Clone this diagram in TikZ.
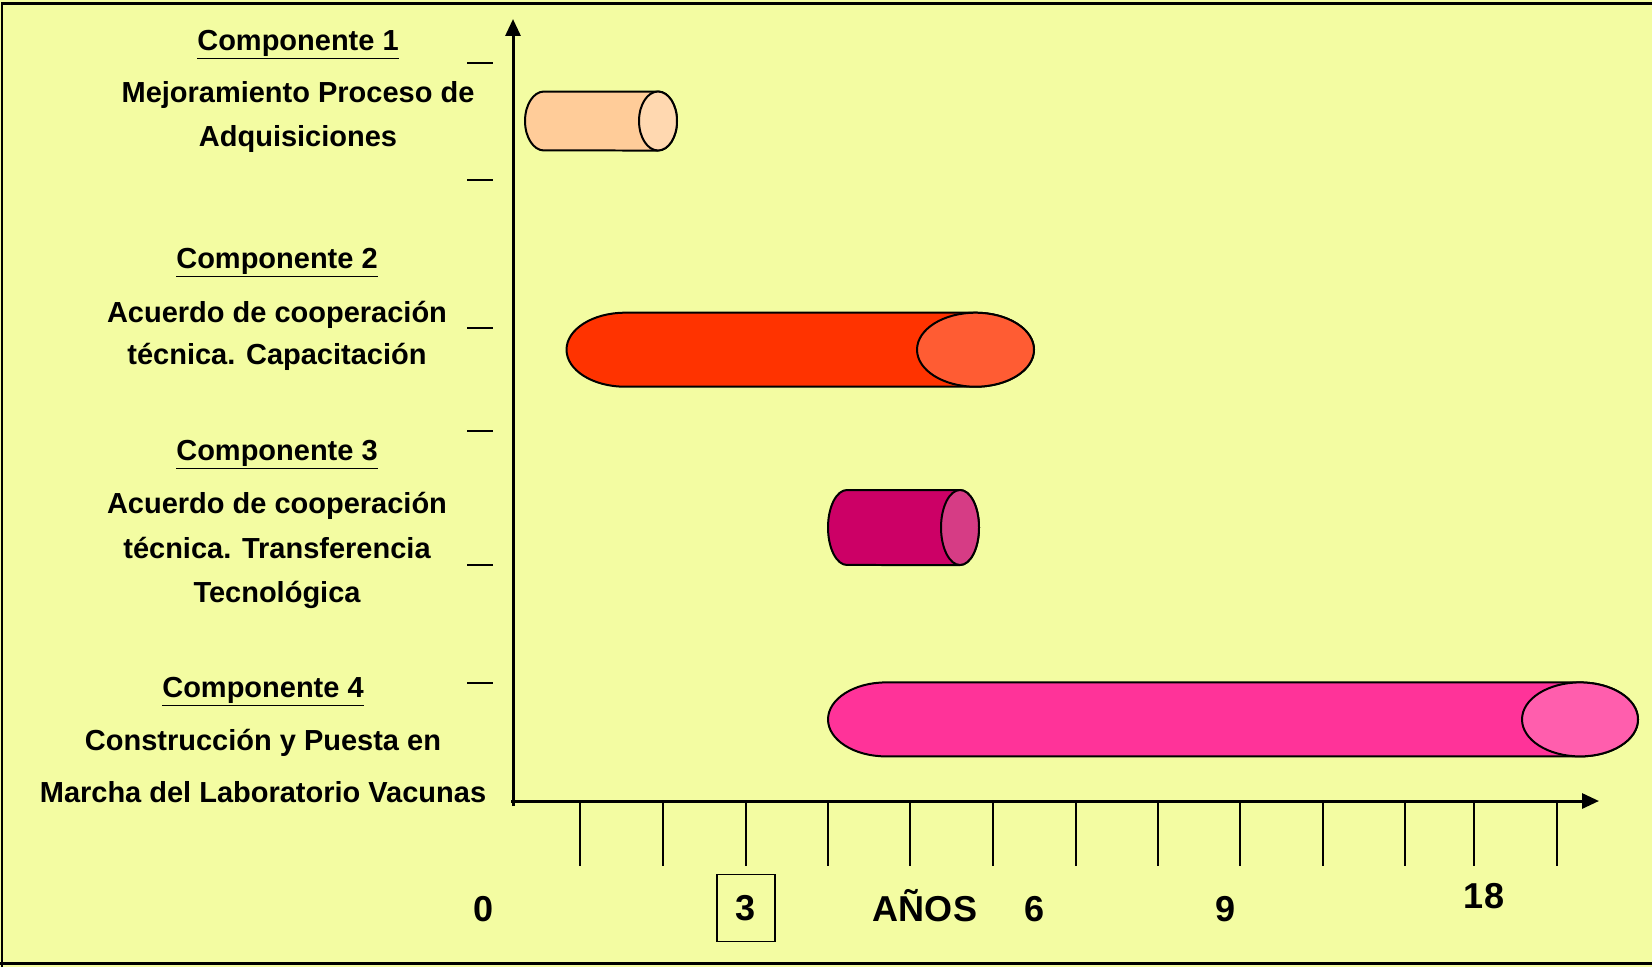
\documentclass[tikz,border=0pt]{standalone}
\usepackage{fontspec}
\setmainfont{Liberation Sans}
\usetikzlibrary{arrows.meta}

\definecolor{fondo}{HTML}{F3FCA2}
\definecolor{cuerpoA}{HTML}{FFCC99}
\definecolor{tapaA}{HTML}{FFD8B0}
\definecolor{cuerpoB}{HTML}{FF3300}
\definecolor{tapaB}{HTML}{FF5C33}
\definecolor{cuerpoC}{HTML}{CC0066}
\definecolor{tapaC}{HTML}{D63C85}
\definecolor{cuerpoD}{HTML}{FF3399}
\definecolor{tapaD}{HTML}{FF5EAD}

\begin{document}
\begin{tikzpicture}[
    x=0.02cm, y=-0.02cm,
    etiqueta/.style={font=\fontsize{16.5}{20}\selectfont\bfseries, anchor=base, inner sep=0pt},
    numero/.style={font=\fontsize{20.5}{24}\selectfont\bfseries, anchor=base, inner sep=0pt},
    eje/.style={line width=0.06cm, -{Triangle[length=0.34cm, width=0.3cm]}},
    marca/.style={line width=0.03cm},
    contorno/.style={line width=0.04cm, draw=black},
    borde/.style={line width=0.05cm}
]

% fondo y marco
\useasboundingbox (0,0) rectangle (1652,967);
\fill[fondo] (0,0) rectangle (1652,967);
\draw[borde] (2,967) -- (2,3.5) -- (1652,3.5);
\draw[borde] (0,963.5) -- (1652,963.5);

% ejes
\draw[eje] (513,806) -- (513,19);
\draw[eje] (511,801) -- (1599,801);

% marcas
\foreach \t in {580,663,746,828,910,993,1076,1158,1240,1323,1405,1474,1557}
    \draw[marca] (\t,801) -- (\t,866);
\foreach \m in {63,180,328,431,565,683}
    \draw[marca] (467,\m) -- (493,\m);

% componente 1
\filldraw[fill=cuerpoA, contorno] (544,91.5) arc[start angle=90, end angle=270, x radius=0.38cm, y radius=0.59cm]
    -- (658,150.5) arc[start angle=-90, end angle=90, x radius=0.38cm, y radius=0.59cm] -- cycle;
\filldraw[fill=tapaA, contorno] (658,121) ellipse [x radius=0.38cm, y radius=0.59cm];

% componente 2
\filldraw[fill=cuerpoB, contorno] (625,312.7) arc[start angle=90, end angle=270, x radius=1.17cm, y radius=0.74cm]
    -- (975.5,386.7) arc[start angle=-90, end angle=90, x radius=1.17cm, y radius=0.74cm] -- cycle;
\filldraw[fill=tapaB, contorno] (975.5,349.7) ellipse [x radius=1.17cm, y radius=0.74cm];

% componente 3
\filldraw[fill=cuerpoC, contorno] (847,490) arc[start angle=90, end angle=270, x radius=0.38cm, y radius=0.75cm]
    -- (960,565) arc[start angle=-90, end angle=90, x radius=0.38cm, y radius=0.75cm] -- cycle;
\filldraw[fill=tapaC, contorno] (960,527.5) ellipse [x radius=0.38cm, y radius=0.75cm];

% componente 4
\filldraw[fill=cuerpoD, contorno] (886,682.4) arc[start angle=90, end angle=270, x radius=1.16cm, y radius=0.74cm]
    -- (1580,756.4) arc[start angle=-90, end angle=90, x radius=1.16cm, y radius=0.74cm] -- cycle;
\filldraw[fill=tapaD, contorno] (1580,719.4) ellipse [x radius=1.16cm, y radius=0.74cm];

% textos
\node[etiqueta] (tituloA) at (298,50) {\underline{Componente 1}};
\node[etiqueta] (textoA1) at (298,102) {Mejoramiento Proceso de};
\node[etiqueta] (textoA2) at (298,146) {Adquisiciones};

\node[etiqueta] (tituloB) at (277,268) {\underline{Componente 2}};
\node[etiqueta] (textoB1) at (277,322) {Acuerdo de cooperación};
\node[etiqueta] (textoB2) at (277,364) {técnica. Capacitación};

\node[etiqueta] (tituloC) at (277,460) {\underline{Componente 3}};
\node[etiqueta] (textoC1) at (277,513) {Acuerdo de cooperación};
\node[etiqueta] (textoC2) at (277,558) {técnica. Transferencia};
\node[etiqueta] (textoC3) at (277,602) {Tecnológica};

\node[etiqueta] (tituloD) at (263,697) {\underline{Componente 4}};
\node[etiqueta] (textoD1) at (263,750) {Construcción y Puesta en};
\node[etiqueta] (textoD2) at (263,802) {Marcha del Laboratorio Vacunas};

% escala
\node[numero] (cero) at (484,921) {0};
\node[numero, anchor=center, draw, line width=0.03cm, minimum width=1.16cm, minimum height=1.34cm] (tres) at (746,908) {3};
\node[numero] (anios) at (925,921) {AÑOS};
\node[numero] (seis) at (1034,921) {6};
\node[numero] (nueve) at (1225,921) {9};
\node[numero] (dieciocho) at (1484,908) {18};

\end{tikzpicture}
\end{document}
